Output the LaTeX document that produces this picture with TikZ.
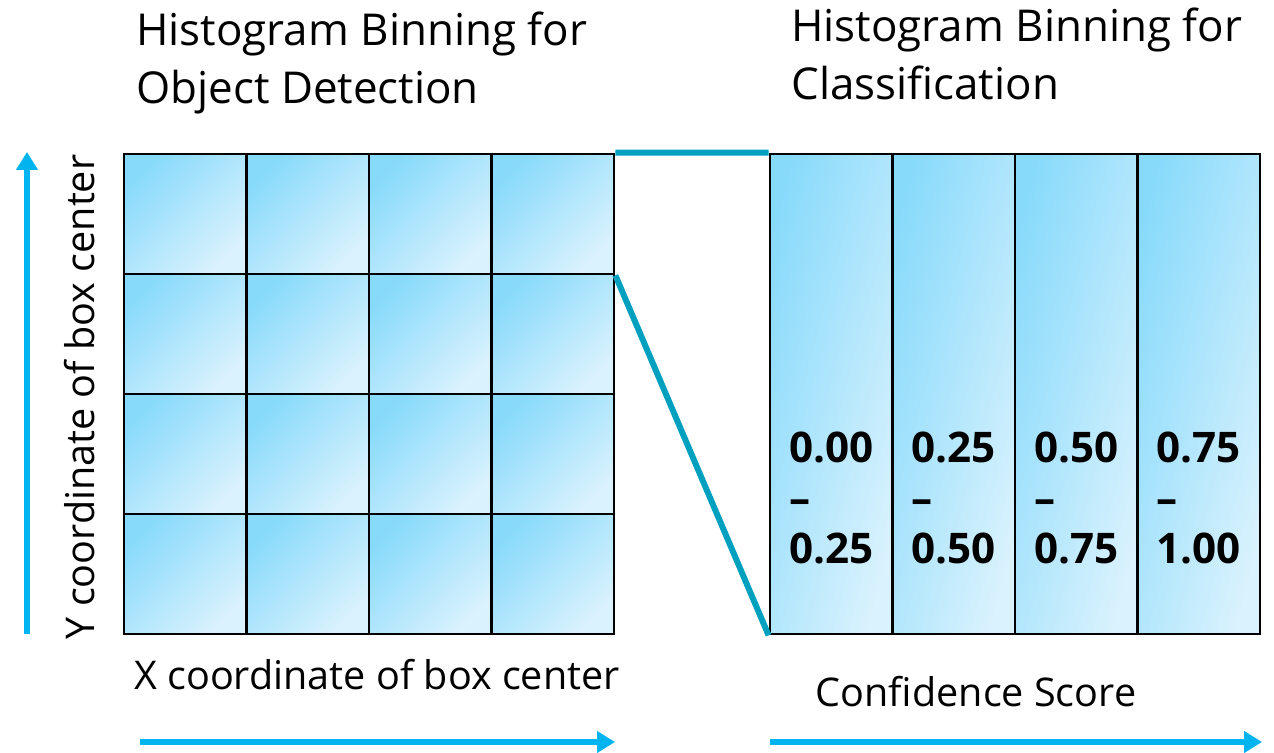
\documentclass[tikz,border=0pt]{standalone}
\usepackage{fontspec}
\setmainfont{Open Sans}
\usetikzlibrary{arrows.meta}

\definecolor{binDark}{HTML}{88DAFB}
\definecolor{binLight}{HTML}{DAF2FD}
\definecolor{axisBlue}{HTML}{00B4F0}
\definecolor{zoomTeal}{HTML}{00A0BE}

\begin{document}
\begin{tikzpicture}[
    x=0.02cm, y=-0.02cm,
    cell/.style={draw, line width=1.6pt, inner sep=0pt,
        minimum width=2.45cm, minimum height=2.4cm,
        top color=binDark, bottom color=binLight, shading angle=45},
    bin/.style={draw, line width=1.6pt, inner sep=0pt,
        minimum width=2.45cm, minimum height=9.6cm,
        top color=binDark, bottom color=binLight, shading angle=75},
    rangetext/.style={font=\fontsize{24}{29}\selectfont\bfseries, align=left, inner sep=0pt},
    heading/.style={font=\fontsize{25}{33}\selectfont, align=left, inner sep=0pt, anchor=north west},
    axislabel/.style={font=\fontsize{22.5}{27}\selectfont, inner sep=0pt},
    axisarrow/.style={line width=3.6pt, axisBlue, -{Triangle[length=0.36cm, width=0.42cm]}},
    zoomline/.style={line width=3.4pt, zoomTeal}
]

\useasboundingbox (0,0) rectangle (1274,753);

% Headings
\node[heading] (headDet) at (136,12) {Histogram Binning for\\Object Detection};
\node[heading] (headCls) at (791,8) {Histogram Binning for\\Classification};

% 4x4 grid of box-center bins
\foreach \col in {1,...,4}
    \foreach \row in {1,...,4}
        \node[cell] (c\col\row) at ({124+122.5*(\col-0.5)}, {154+120*(\row-0.5)}) {};

% Confidence bins
\foreach \i/\lo/\hi in {1/0.00/0.25, 2/0.25/0.50, 3/0.50/0.75, 4/0.75/1.00} {
    \node[bin] (b\i) at ({770+122.5*(\i-0.5)}, 394) {};
    \node[rangetext] (r\i) at ({770+122.5*(\i-0.5)}, 498) {\lo\\–\\\hi};
}

% Zoom lines between the two histograms
\draw[zoomline] (c41.north east) -- (b1.north west);
\draw[zoomline] (c41.south east) -- (b1.south west);

% Axes
\coordinate (yFoot) at (27,634);
\coordinate (yTip) at (27,152);
\coordinate (xFoot) at (140,742);
\coordinate (xTip) at (615,742);
\coordinate (sFoot) at (770,742);
\coordinate (sTip) at (1262,742);
\draw[axisarrow] (yFoot) -- (yTip);
\draw[axisarrow] (xFoot) -- (xTip);
\draw[axisarrow] (sFoot) -- (sTip);

% Axis labels
\node[axislabel, rotate=90] (yLabel) at (80,397) {Y coordinate of box center};
\node[axislabel] (xLabel) at (377,675) {X coordinate of box center};
\node[axislabel] (sLabel) at (976,692) {Confidence Score};

\end{tikzpicture}
\end{document}
